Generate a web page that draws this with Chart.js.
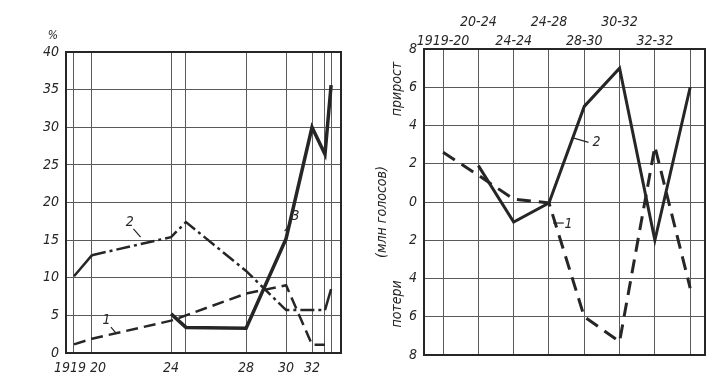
<!DOCTYPE html>
<html>
<head>
<meta charset="utf-8">
<script src="https://cdn.jsdelivr.net/npm/chart.js@4.4.1/dist/chart.umd.min.js"></script>
<style>
  html, body { margin: 0; padding: 0; background: #fff; }
  #wrap { position: relative; width: 725px; height: 377px; }
  #c-left { position: absolute; left: 0; top: 0; }
  #c-right { position: absolute; left: 360px; top: 0; }
</style>
</head>
<body>
<div id="wrap">
  <canvas id="c-left" width="360" height="377"></canvas>
  <canvas id="c-right" width="365" height="377"></canvas>
</div>
<script>
// левый график: доля голосов, %
const electionX = [1919, 1920, 1924.39, 1925.22, 1928.56, 1930.78, 1932.22, 1932.94, 1933.28];
const electionLabels = ["1919  ", "   20", "24", "", "28", "30", "32", "", ""];
const share1 = [1.15, 1.9, 4.3, 5.0, 7.9, 9.0, 1.1, 1.1, null];
const share2 = [10.2, 13.0, 15.4, 17.4, 10.9, 5.7, 5.7, 5.7, 8.5];
const share3 = [null, null, 5.2, 3.4, 3.3, 15.2, 30.0, 26.4, 35.6];

// правый график: прирост / потери (млн голосов)
const periods = ["1919-20", "20-24", "24-24", "24-28", "28-30", "30-32", "32-32", ""];
const shift1 = [2.6, 1.4, 0.15, -0.05, -6.0, -7.3, 2.9, -4.5];
const shift2 = [null, 1.9, -1.05, -0.05, 5.0, 7.0, -2.0, 6.0];

const INK = "#262626";
const GRID = "#5a5a5a";
const FONT = '"Liberation Sans Narrow", "DejaVu Sans Condensed", "DejaVu Sans", sans-serif';

function pts(xs, ys) {
  return xs.map((x, i) => ({ x, y: ys[i] }));
}

/** рамка вокруг области графика */
const framePlugin = {
  id: "frame",
  beforeDatasetsDraw(chart) {
    const a = chart.chartArea;
    const ctx = chart.ctx;
    ctx.save();
    ctx.strokeStyle = INK;
    ctx.lineWidth = 2;
    ctx.strokeRect(a.left, a.top, a.right - a.left, a.bottom - a.top);
    ctx.restore();
  },
};

/** подписи кривых с выносками (в координатах данных) */
function notesPlugin(notes, extra) {
  return {
    id: "notes",
    afterDatasetsDraw(chart) {
      const ctx = chart.ctx;
      const sx = chart.scales.x;
      const sy = chart.scales.y;
      ctx.save();
      ctx.fillStyle = INK;
      ctx.strokeStyle = INK;
      ctx.lineWidth = 1.2;
      ctx.font = "italic 14px " + FONT;
      ctx.textAlign = "center";
      ctx.textBaseline = "middle";
      notes.forEach((n) => {
        ctx.fillText(n.text, sx.getPixelForValue(n.tx), sy.getPixelForValue(n.ty));
        ctx.beginPath();
        ctx.moveTo(sx.getPixelForValue(n.x0), sy.getPixelForValue(n.y0));
        ctx.lineTo(sx.getPixelForValue(n.x1), sy.getPixelForValue(n.y1));
        ctx.stroke();
      });
      if (extra) extra(ctx, chart);
      ctx.restore();
    },
  };
}

const tickFont = { family: FONT, size: 14, style: "italic" };

// ---------- левый ----------
const leftNotes = [
  { text: "2", tx: 1922.1, ty: 17.4, x0: 1922.3, y0: 16.5, x1: 1922.7, y1: 15.4 },
  { text: "1", tx: 1920.8, ty: 4.3, x0: 1921.05, y0: 3.45, x1: 1921.35, y1: 2.6 },
  { text: "3", tx: 1931.3, ty: 18.2, x0: 1931.05, y0: 17.3, x1: 1930.7, y1: 16.2 },
];

new Chart(document.getElementById("c-left"), {
  type: "line",
  data: {
    datasets: [
      {
        data: pts(electionX, share1),
        borderColor: INK,
        borderWidth: 2.5,
        borderDash: [12, 6],
        pointRadius: 0,
      },
      {
        data: pts(electionX, share2),
        borderColor: INK,
        borderWidth: 2.5,
        pointRadius: 0,
        segment: {
          borderDash: (c) => (c.p0DataIndex >= 1 && c.p0DataIndex < 7 ? [14, 4, 3, 4] : undefined),
        },
      },
      {
        data: pts(electionX, share3),
        borderColor: INK,
        borderWidth: 3.5,
        pointRadius: 0,
      },
    ],
  },
  options: {
    responsive: false,
    animation: false,
    layout: { padding: { top: 52, right: 19, bottom: 0, left: 0 } },
    plugins: { legend: { display: false }, tooltip: { enabled: false } },
    scales: {
      x: {
        type: "linear",
        min: 1918.556,
        max: 1933.83,
        afterBuildTicks: (axis) => {
          axis.ticks = electionX.map((v) => ({ value: v }));
        },
        afterFit: (s) => { s.height = 24; },
        ticks: {
          autoSkip: false,
          maxRotation: 0,
          padding: 7,
          color: INK,
          font: tickFont,
          callback: (v, i) => electionLabels[i],
        },
        grid: { color: GRID, lineWidth: 1, drawTicks: false },
        border: { display: false },
      },
      y: {
        min: 0,
        max: 40,
        afterFit: (s) => { s.width = 66; },
        ticks: { stepSize: 5, padding: 7, color: INK, font: tickFont },
        grid: { color: GRID, lineWidth: 1, drawTicks: false },
        border: { display: false },
      },
    },
  },
  plugins: [
    framePlugin,
    notesPlugin(leftNotes, (ctx) => {
      ctx.font = "italic 12px " + FONT;
      ctx.fillText("%", 53, 36);
    }),
  ],
});

// ---------- правый ----------
const rightNotes = [
  { text: "2", tx: 4.35, ty: 3.1, x0: 3.68, y0: 3.35, x1: 4.12, y1: 3.12 },
  { text: "1", tx: 3.55, ty: -1.15, x0: 3.12, y0: -1.1, x1: 3.42, y1: -1.1 },
];

function drawSideTitles(ctx) {
  const put = (txt, x, y) => {
    ctx.save();
    ctx.translate(x, y);
    ctx.rotate(-Math.PI / 2);
    ctx.fillText(txt, 0, 0);
    ctx.restore();
  };
  ctx.font = "italic 14px " + FONT;
  put("прирост", 37, 89);
  put("(млн голосов)", 22, 212);
  put("потери", 37, 304);
}

new Chart(document.getElementById("c-right"), {
  type: "line",
  data: {
    datasets: [
      {
        data: pts(periods.map((_, i) => i), shift1),
        borderColor: INK,
        borderWidth: 3,
        borderDash: [14, 8],
        pointRadius: 0,
      },
      {
        data: pts(periods.map((_, i) => i), shift2),
        borderColor: INK,
        borderWidth: 3,
        pointRadius: 0,
      },
    ],
  },
  options: {
    responsive: false,
    animation: false,
    layout: { padding: { top: 0, right: 20, bottom: 22, left: 0 } },
    plugins: { legend: { display: false }, tooltip: { enabled: false } },
    scales: {
      x: {
        type: "linear",
        position: "top",
        min: -0.54,
        max: 7.42,
        afterBuildTicks: (axis) => {
          axis.ticks = periods.map((_, i) => ({ value: i }));
        },
        afterFit: (s) => { s.height = 49; },
        ticks: {
          autoSkip: false,
          maxRotation: 0,
          padding: -1,
          color: INK,
          font: { ...tickFont, lineHeight: 1.3 },
          callback: (v, i) => (i % 2 ? [periods[i], ""] : ["", periods[i]]),
        },
        grid: { color: GRID, lineWidth: 1, drawTicks: false },
        border: { display: false },
      },
      y: {
        min: -8,
        max: 8,
        afterFit: (s) => { s.width = 64; },
        ticks: {
          stepSize: 2,
          padding: 7,
          color: INK,
          font: tickFont,
          callback: (v) => String(Math.abs(v)),
        },
        grid: { color: GRID, lineWidth: 1, drawTicks: false },
        border: { display: false },
      },
    },
  },
  plugins: [framePlugin, notesPlugin(rightNotes, drawSideTitles)],
});
</script>
</body>
</html>
